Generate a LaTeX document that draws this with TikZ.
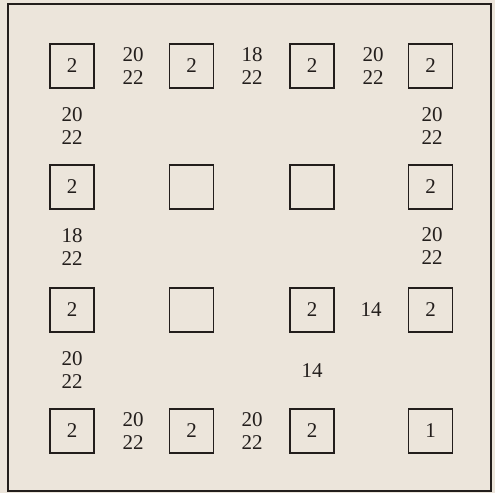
\documentclass[tikz,border=0pt]{standalone}
\usepackage{fontspec}
\setmainfont{Liberation Serif}
\begin{document}
\definecolor{paper}{RGB}{236,229,219}
\definecolor{ink}{RGB}{35,30,28}
\begin{tikzpicture}[x=1pt,y=-1pt,
  cell/.style={draw=ink,line width=1.1pt,minimum width=44pt,minimum height=44pt,inner sep=0pt,font=\fontsize{21}{22}\selectfont,text=ink},
  lab/.style={align=center,inner sep=0pt,font=\fontsize{21}{23}\selectfont,text=ink}]
\fill[paper] (0,0) rectangle (495,493);
\useasboundingbox (0,0) rectangle (495,493);
\draw[ink,line width=1.2pt] (8,4) rectangle (491,491);
% boxes
\node[cell] (b11) at (72,66) {2};
\node[cell] (b12) at (191.5,66) {2};
\node[cell] (b13) at (312,66) {2};
\node[cell] (b14) at (430.5,66) {2};
\node[cell] (b21) at (72,187) {2};
\node[cell] (b22) at (191.5,187) {};
\node[cell] (b23) at (312,187) {};
\node[cell] (b24) at (430.5,187) {2};
\node[cell] (b31) at (72,310) {2};
\node[cell] (b32) at (191.5,310) {};
\node[cell] (b33) at (312,310) {2};
\node[cell] (b34) at (430.5,310) {2};
\node[cell] (b41) at (72,431) {2};
\node[cell] (b42) at (191.5,431) {2};
\node[cell] (b43) at (312,431) {2};
\node[cell] (b44) at (430.5,431) {1};
% labels
\node[lab] (h1) at (133,66) {20\\22};
\node[lab] (h2) at (252,66) {18\\22};
\node[lab] (h3) at (373,66) {20\\22};
\node[lab] (v1) at (72,126) {20\\22};
\node[lab] (v2) at (72,247) {18\\22};
\node[lab] (v3) at (72,370) {20\\22};
\node[lab] (v4) at (432,126) {20\\22};
\node[lab] (v5) at (432,246) {20\\22};
\node[lab] (h4) at (133,431) {20\\22};
\node[lab] (h5) at (252,431) {20\\22};
\node[lab] (f1) at (371,310) {14};
\node[lab] (f2) at (312,371) {14};
\end{tikzpicture}
\end{document}
